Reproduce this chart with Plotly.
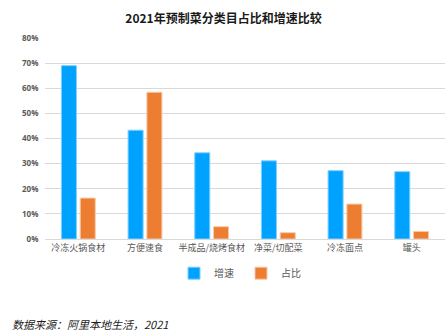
import plotly.graph_objects as go

categories = ["冷冻火锅食材", "方便速食", "半成品/烧烤食材", "净菜/切配菜", "冷冻面点", "罐头"]
growth = [69.0, 43.3, 34.3, 31.1, 27.2, 26.8]
share = [16.3, 58.4, 4.9, 2.5, 13.9, 3.0]
tick_vals = [0, 10, 20, 30, 40, 50, 60, 70, 80]
tick_text = [f"{v}%" for v in tick_vals]

FONT = "Open Sans, Noto Sans CJK SC, sans-serif"

fig = go.Figure()
fig.add_trace(go.Bar(name="增速", x=categories, y=growth,
                     marker=dict(color="#00A2FF", line=dict(color="#7FD0FF", width=1))))
fig.add_trace(go.Bar(name="占比", x=categories, y=share,
                     marker=dict(color="#ED7D31", line=dict(color="#F8C9A8", width=1))))

fig.update_layout(
    width=447, height=333,
    margin=dict(l=45, r=2, t=38, b=94),
    paper_bgcolor="white", plot_bgcolor="white",
    barmode="group", bargap=0.436, bargroupgap=0.2,
    title=dict(text="<b>2021年预制菜分类目占比和增速比较</b>", x=0.5, xanchor="center",
               y=0.943, yanchor="middle",
               font=dict(family="Noto Sans CJK SC, sans-serif", size=12, color="#1a1a1a")),
    font=dict(family=FONT, size=9, color="#595959"),
    xaxis=dict(tickfont=dict(family="Noto Sans CJK SC, sans-serif", size=9, color="#595959"),
               showline=True, linecolor="#d9d9d9", linewidth=1, ticks="", showgrid=False),
    yaxis=dict(range=[0, 80], tickvals=tick_vals, ticktext=tick_text,
               tickfont=dict(family=FONT, size=8, color="#595959", weight="bold"),
               showgrid=True, gridcolor="#d9d9d9", gridwidth=1, zeroline=False,
               ticklen=0, ticks="outside", tickcolor="white", ticklabelstandoff=4),
    legend=dict(orientation="h", x=0.49, xanchor="center", y=-0.17, yanchor="middle",
                font=dict(family="Noto Sans CJK SC, sans-serif", size=10, color="#595959"),
                entrywidth=22, entrywidthmode="pixels", tracegroupgap=0),
    annotations=[dict(text="<i>数据来源：阿里本地生活，2021</i>", xref="paper", yref="paper",
                      x=-45/400, xanchor="left", y=-85/201, yanchor="middle", showarrow=False,
                      xshift=10,
                      font=dict(family="Noto Sans CJK SC, sans-serif", size=11, color="#1a1a1a"))],
)

fig.write_html("out.html")
